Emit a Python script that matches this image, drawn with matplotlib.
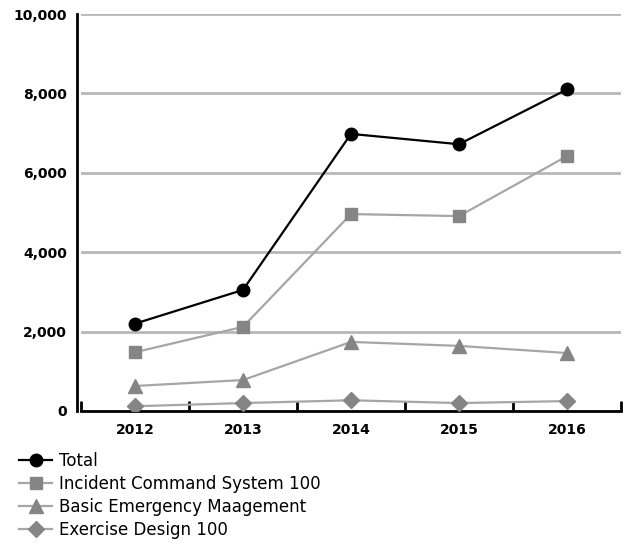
import matplotlib
matplotlib.use("Agg")
import matplotlib.pyplot as plt
from matplotlib.ticker import FuncFormatter, FixedLocator

years = ["2012", "2013", "2014", "2015", "2016"]
total = [2200, 3050, 6980, 6720, 8100]
ics_100 = [1480, 2120, 4960, 4910, 6420]
basic_em = [630, 780, 1740, 1640, 1460]
exercise_100 = [120, 200, 270, 200, 250]

plt.rcParams["font.family"] = "DejaVu Sans"
plt.rcParams["font.weight"] = "bold"

fig = plt.figure(figsize=(6.23, 5.52), dpi=100)
ax = fig.add_axes([81 / 623, 1 - 411 / 552, 540 / 623, 397 / 552])

x = range(len(years))
grey_line = "#a6a6a6"
grey_mark = "#858585"

ax.plot(x, total, color="black", lw=1.6, marker="o", ms=9, label="Total", zorder=5)
ax.plot(x, ics_100, color=grey_line, lw=1.6, marker="s", ms=9, mfc=grey_mark, mec=grey_mark,
        label="Incident Command System 100", zorder=4)
ax.plot(x, basic_em, color=grey_line, lw=1.6, marker="^", ms=10.5, mfc=grey_mark, mec=grey_mark,
        label="Basic Emergency Maagement", zorder=4)
ax.plot(x, exercise_100, color=grey_line, lw=1.6, marker="D", ms=8, mfc=grey_mark, mec=grey_mark,
        label="Exercise Design 100", zorder=4)

ax.set_xlim(-0.5, len(years) - 0.5)
ax.set_ylim(0, 10000)
ax.set_yticks(range(0, 10001, 2000))
ax.yaxis.set_major_formatter(FuncFormatter(lambda v, p: f"{int(v):,}"))
ax.yaxis.grid(True, color="#b8b8b8", lw=2)
ax.set_axisbelow(True)

ax.set_xticks(list(x))
ax.set_xticklabels(years)
ax.xaxis.set_minor_locator(FixedLocator([i - 0.5 for i in range(len(years) + 1)]))
ax.tick_params(axis="x", which="major", length=0, pad=9, labelsize=10)
ax.tick_params(axis="x", which="minor", direction="in", length=7, width=2, color="black")
ax.tick_params(axis="y", length=0, pad=7, labelsize=10)

for s in ["top", "right"]:
    ax.spines[s].set_visible(False)
ax.spines["left"].set_linewidth(2)
ax.spines["bottom"].set_linewidth(2)
ax.spines["left"].set_position(("outward", 3))

fig.legend(loc="upper left", bbox_to_anchor=(19 / 623, 1 - 452 / 552), frameon=False,
           prop={"family": "DejaVu Sans", "weight": "normal", "size": 12}, handlelength=2.0,
           handletextpad=0.42, labelspacing=0.3, borderaxespad=0, borderpad=0)

fig.savefig("out.png", dpi=100)
